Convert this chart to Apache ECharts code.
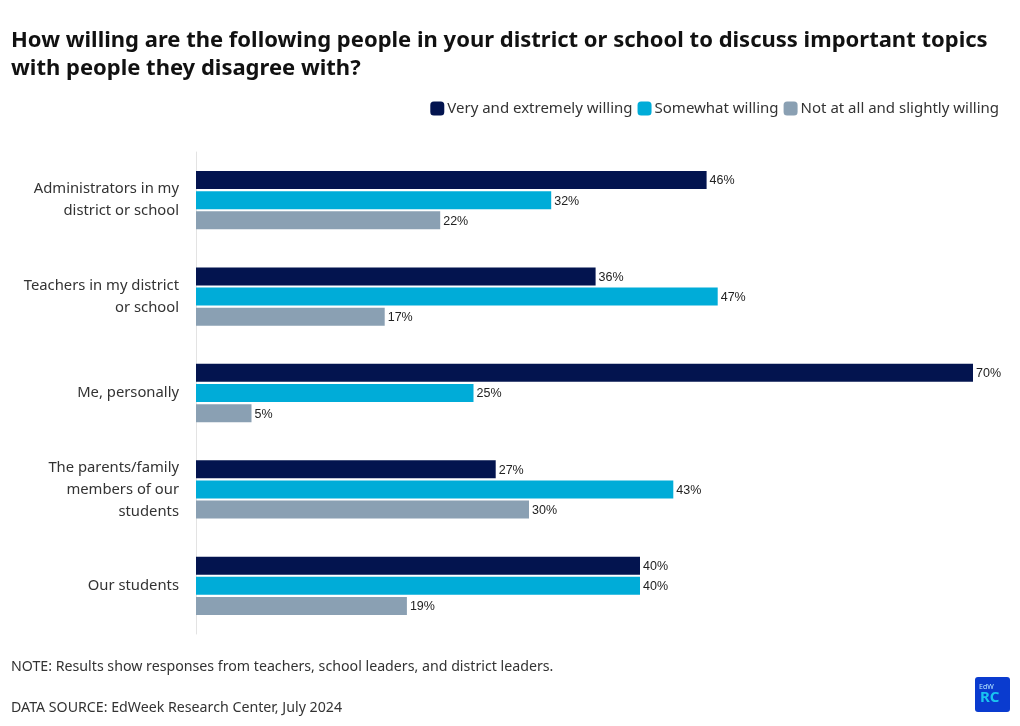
<!DOCTYPE html>
<html><head><meta charset="utf-8">
<script src="https://cdn.jsdelivr.net/npm/echarts@6/dist/echarts.min.js"></script>
<style>html,body{margin:0;padding:0;background:#fff}#c{width:1020px;height:726px}</style>
</head><body><div id="c"></div>
<script>
var categories = ["Administrators in my\ndistrict or school","Teachers in my district\nor school","Me, personally","The parents/family\nmembers of our\nstudents","Our students"];
var seriesNames = ["Very and extremely willing","Somewhat willing","Not at all and slightly willing"];
var veryWilling = [46,36,70,27,40];
var somewhatWilling = [32,47,25,43,40];
var notWilling = [22,17,5,30,19];
var colors = ["#03144f","#00acd8","#8aa0b3"];
var chart = echarts.init(document.getElementById('c'));
var data = [veryWilling, somewhatWilling, notWilling];
chart.setOption({
  animation:false,
  backgroundColor:'#fff',
  title:{text:"How willing are the following people in your district or school to discuss important topics\nwith people they disagree with?",left:11,top:27,padding:0,
    textStyle:{fontFamily:'Noto Sans',fontWeight:'bold',fontSize:22,lineHeight:28,color:'#111'}},
  legend:{right:21,top:101,padding:0,itemWidth:14,itemHeight:14,itemGap:5,icon:'roundRect',
    textStyle:{fontFamily:'Noto Sans',fontSize:15,color:'#333',padding:[0,0,0,-2]},data:seriesNames},
  grid:{left:196,right:47,top:152,bottom:92,containLabel:false},
  xAxis:{type:'value',min:0,max:70,show:false},
  yAxis:{type:'category',data:categories,inverse:true,
    axisLine:{show:true,lineStyle:{color:'#e3e3e3',width:1}},axisTick:{show:false},
    axisLabel:{fontFamily:'Noto Sans',fontSize:14.8,lineHeight:22,color:'#333',margin:17,align:'right'}},
  series: seriesNames.map(function(n,i){return {
    name:n,type:'bar',data:data[i],barWidth:18,barGap:'12%',
    itemStyle:{color:colors[i]},
    label:{show:true,position:'right',distance:3,offset:[0,1],formatter:'{c}%',fontFamily:'Liberation Sans',fontSize:12.5,color:'#222'}
  };}),
  graphic:[
    {type:'text',left:11,top:660,style:{text:'NOTE: Results show responses from teachers, school leaders, and district leaders.',fontFamily:'Noto Sans',fontSize:14.2,fill:'#333'}},
    {type:'text',left:11,top:701,style:{text:'DATA SOURCE: EdWeek Research Center, July 2024',fontFamily:'Noto Sans',fontSize:14.2,fill:'#333'}},
    {type:'group',left:975,top:677,children:[
      {type:'rect',shape:{x:0,y:0,width:35,height:35,r:3},style:{fill:'#0a3bcf'}},
      {type:'text',x:4,y:6,style:{text:'EdW',fontFamily:'Noto Sans',fontSize:7,fill:'#b8e8ff'}},
      {type:'text',x:5,y:13,style:{text:'RC',fontFamily:'Noto Sans',fontWeight:'bold',fontSize:15,fill:'#19c4f0'}}
    ]}
  ]
});
</script></body></html>
